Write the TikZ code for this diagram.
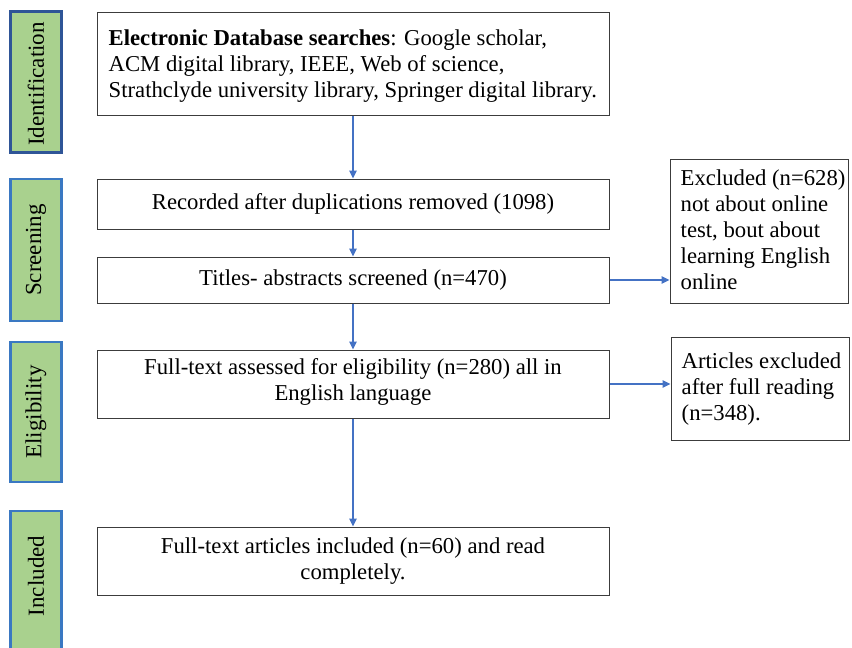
\documentclass[tikz,border=0pt]{standalone}
\usepackage{fontspec}
\setmainfont{Liberation Serif}
\usetikzlibrary{arrows.meta}
\definecolor{phasefill}{HTML}{A9D18E}
\definecolor{phaseedge}{HTML}{3A78C2}
\definecolor{phaseedgedark}{HTML}{2F5597}
\definecolor{flowblue}{HTML}{4472C4}
\definecolor{boxedge}{HTML}{3C3C3C}
\tikzset{
  phase/.style={draw=phaseedge, line width=2.4pt, fill=phasefill, inner sep=0pt,
    minimum width=51pt},
  phasetext/.style={rotate=90, font=\fontsize{23}{27}\selectfont},
  bodyfont/.style={font=\fontsize{22.7}{26}\selectfont},
  stagebox/.style={draw=boxedge, line width=1pt, inner sep=0pt, minimum width=512pt},
  stagetext/.style={inner sep=0pt, align=center, bodyfont},
  sidebox/.style={draw=boxedge, line width=1pt, inner sep=0pt, minimum width=178pt},
  sidetext/.style={anchor=west, inner sep=0pt, align=left, bodyfont},
  flow/.style={draw=flowblue, line width=1.3pt, -{Triangle[length=8pt,width=7.5pt]}},
}
\begin{document}
\begin{tikzpicture}[x=1pt,y=-1pt]
\useasboundingbox (0,0) rectangle (852,648);
\clip (0,0) rectangle (852,648);

% phase bars on the left
\node[phase, draw=phaseedgedark, minimum height=141pt] (pid) at (36,82) {};
\node[phasetext] (tid) at (36,84) {Identification};
\node[phase, minimum height=142pt] (psc) at (36,250) {};
\node[phasetext] (tsc) at (psc.center) {Screening};
\node[phase, minimum height=140pt] (pel) at (36,412) {};
\node[phasetext] (tel) at (pel.center) {Eligibility};
\node[phase, minimum height=160pt] (pin) at (36,591) {};
\node[phasetext] (tin) at (36,576) {Included};

% main flow boxes
\node[stagebox, minimum height=103pt] (search) at (353,63.5) {};
\node[sidetext] (searcht) at ([xshift=12pt,yshift=-3pt]search.west)
  {\textbf{Electronic Database searches}: Google scholar,\\
   ACM digital library, IEEE, Web of science,\\
   Strathclyde university library, Springer digital library.};
\node[stagebox, minimum height=50pt] (dedup) at (353,204) {};
\node[stagetext] (dedupt) at (dedup.center)
  {Recorded after duplications removed (1098)};
\node[stagebox, minimum height=46pt] (titles) at (353,280) {};
\node[stagetext] (titlest) at (titles.center)
  {Titles- abstracts screened (n=470)};
\node[stagebox, minimum height=68pt] (fulltext) at (353,384) {};
\node[stagetext] (fulltextt) at ([yshift=2pt]fulltext.center)
  {Full-text assessed for eligibility (n=280) all in\\English language};
\node[stagebox, minimum height=68pt] (included) at (353,561) {};
\node[stagetext] (includedt) at (included.center)
  {Full-text articles included (n=60) and read\\completely.};

% exclusion boxes on the right
\node[sidebox, minimum height=144pt] (excl1) at (759,231) {};
\node[sidetext] (excl1t) at ([xshift=11pt,yshift=1pt]excl1.west)
  {Excluded (n=628)\\not about online\\test, bout about\\learning English\\online};
\node[sidebox, minimum height=103pt] (excl2) at (760,388.5) {};
\node[sidetext] (excl2t) at ([xshift=11pt,yshift=-1pt]excl2.west)
  {Articles excluded\\after full reading\\(n=348).};

% connectors
\draw[flow] (search.south) -- (dedup.north);
\draw[flow] (dedup.south) -- (titles.north);
\draw[flow] (titles.south) -- (fulltext.north);
\draw[flow] (fulltext.south) -- (included.north);
\draw[flow] (titles.east) -- (titles.east -| excl1.west);
\draw[flow] (fulltext.east) -- (fulltext.east -| excl2.west);
\end{tikzpicture}
\end{document}
